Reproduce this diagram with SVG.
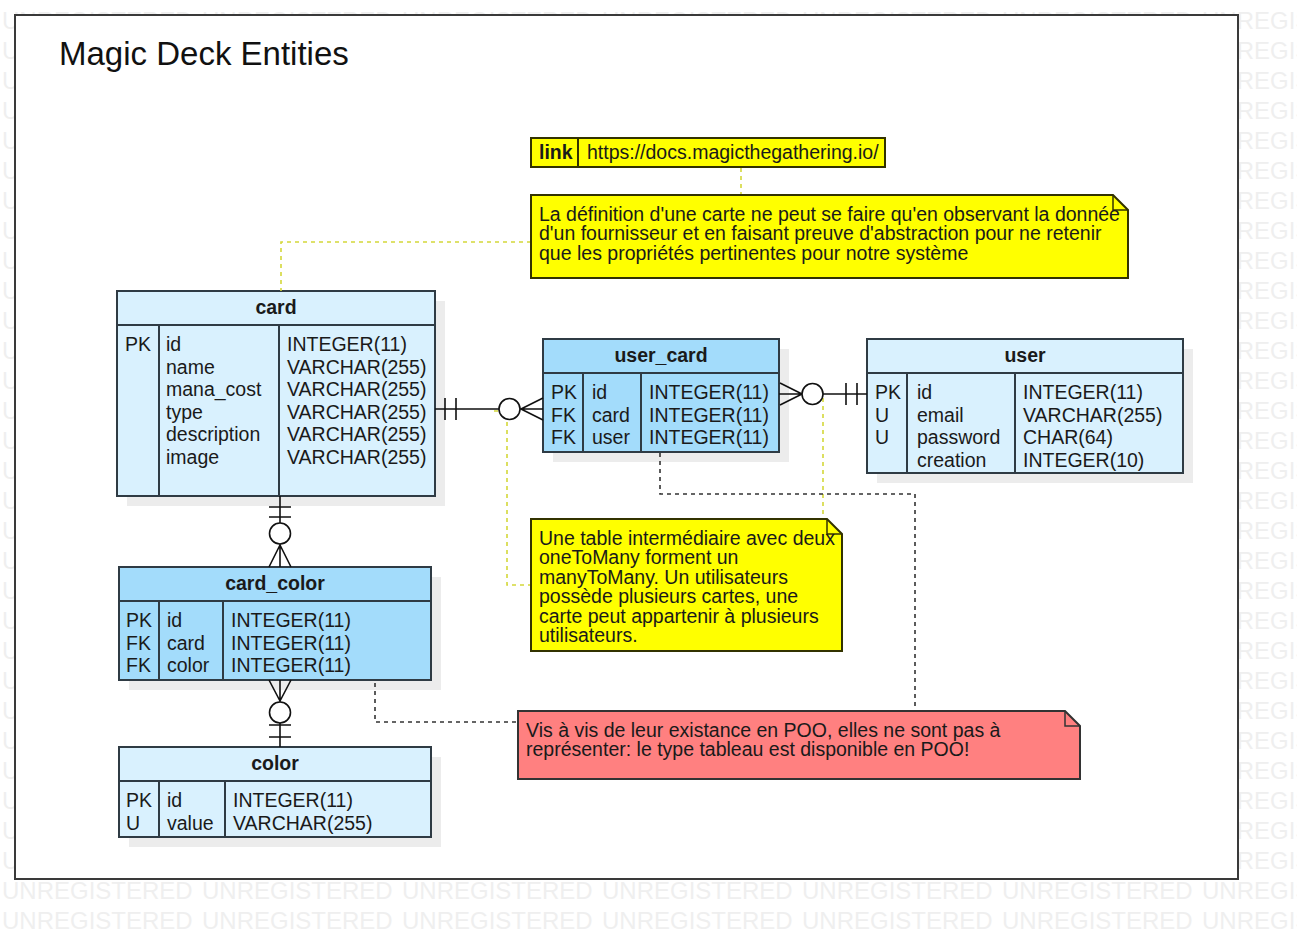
<svg xmlns="http://www.w3.org/2000/svg" xmlns:xlink="http://www.w3.org/1999/xlink" width="1297" height="939" viewBox="0 0 1297 939">
<style>
.wm{font-family:"Liberation Sans",Arial,sans-serif;font-size:24px;fill:#efefef}
.t{font-family:"Liberation Sans",Arial,sans-serif;font-size:19.5px;fill:#1a1a1a}
.th{font-family:"Liberation Sans",Arial,sans-serif;font-size:19.5px;font-weight:bold;fill:#1a1a1a;text-anchor:middle}
.n{font-family:"Liberation Sans",Arial,sans-serif;font-size:19.5px;fill:#1a1a1a}
.light{fill:#d9f1fe;stroke:#2f3b44;stroke-width:2}
.strong{fill:#a3dcfb;stroke:#2f3b44;stroke-width:2}
.shadow{fill:#ececec}
.div{stroke:#2f3b44;stroke-width:2}
.rel{fill:none;stroke:#111;stroke-width:1.6}
.circ{fill:#fff;stroke:#111;stroke-width:1.6}
.ydash{fill:none;stroke:#d4d83a;stroke-width:1.6;stroke-dasharray:4 4}
.kdash{fill:none;stroke:#333;stroke-width:1.6;stroke-dasharray:4 4}
.note{fill:#ffff00;stroke:#333300;stroke-width:2}
.rnote{fill:#ff8080;stroke:#333;stroke-width:2}
</style>
<defs>
<g id="wmrow">
<text class="wm" x="2" y="0">UNREGISTERED</text>
<text class="wm" x="202" y="0">UNREGISTERED</text>
<text class="wm" x="402" y="0">UNREGISTERED</text>
<text class="wm" x="602" y="0">UNREGISTERED</text>
<text class="wm" x="802" y="0">UNREGISTERED</text>
<text class="wm" x="1002" y="0">UNREGISTERED</text>
<text class="wm" x="1202" y="0">UNREGISTERED</text>
</g>
</defs>
<rect width="1297" height="939" fill="#fff"/>
<g id="watermark">
<use xlink:href="#wmrow" y="29"/><use xlink:href="#wmrow" y="59"/><use xlink:href="#wmrow" y="89"/><use xlink:href="#wmrow" y="119"/>
<use xlink:href="#wmrow" y="149"/><use xlink:href="#wmrow" y="179"/><use xlink:href="#wmrow" y="209"/><use xlink:href="#wmrow" y="239"/>
<use xlink:href="#wmrow" y="269"/><use xlink:href="#wmrow" y="299"/><use xlink:href="#wmrow" y="329"/><use xlink:href="#wmrow" y="359"/>
<use xlink:href="#wmrow" y="389"/><use xlink:href="#wmrow" y="419"/><use xlink:href="#wmrow" y="449"/><use xlink:href="#wmrow" y="479"/>
<use xlink:href="#wmrow" y="509"/><use xlink:href="#wmrow" y="539"/><use xlink:href="#wmrow" y="569"/><use xlink:href="#wmrow" y="599"/>
<use xlink:href="#wmrow" y="629"/><use xlink:href="#wmrow" y="659"/><use xlink:href="#wmrow" y="689"/><use xlink:href="#wmrow" y="719"/>
<use xlink:href="#wmrow" y="749"/><use xlink:href="#wmrow" y="779"/><use xlink:href="#wmrow" y="809"/><use xlink:href="#wmrow" y="839"/>
<use xlink:href="#wmrow" y="869"/><use xlink:href="#wmrow" y="899"/><use xlink:href="#wmrow" y="929"/>
</g>
<g id="frame">
<rect x="15" y="15" width="1223" height="864" fill="#fff" stroke="#3a3a3a" stroke-width="2"/>
<text x="59" y="65" font-family="Liberation Sans, Arial, sans-serif" font-size="33" fill="#111">Magic Deck Entities</text>
</g>

<g id="card">
<rect class="shadow" x="127" y="301" width="318" height="205"/>
<rect class="light" x="117" y="291" width="318" height="34"/>
<rect class="light" x="117" y="325" width="318" height="171"/>
<line class="div" x1="159" y1="325" x2="159" y2="496"/>
<line class="div" x1="279" y1="325" x2="279" y2="496"/>
<text class="th" x="276" y="314">card</text>
<text class="t" x="125" y="351">PK</text>
<text class="t" y="351"><tspan x="166">id</tspan><tspan x="166" dy="22.6">name</tspan><tspan x="166" dy="22.6">mana_cost</tspan><tspan x="166" dy="22.6">type</tspan><tspan x="166" dy="22.6">description</tspan><tspan x="166" dy="22.6">image</tspan></text>
<text class="t" y="351"><tspan x="287">INTEGER(11)</tspan><tspan x="287" dy="22.6">VARCHAR(255)</tspan><tspan x="287" dy="22.6">VARCHAR(255)</tspan><tspan x="287" dy="22.6">VARCHAR(255)</tspan><tspan x="287" dy="22.6">VARCHAR(255)</tspan><tspan x="287" dy="22.6">VARCHAR(255)</tspan></text>
</g>

<g id="user_card">
<rect class="shadow" x="553" y="349" width="236" height="113"/>
<rect class="strong" x="543" y="339" width="236" height="34"/>
<rect class="strong" x="543" y="373" width="236" height="79"/>
<line class="div" x1="583" y1="373" x2="583" y2="452"/>
<line class="div" x1="641" y1="373" x2="641" y2="452"/>
<text class="th" x="661" y="362">user_card</text>
<text class="t" y="399"><tspan x="551">PK</tspan><tspan x="551" dy="22.6">FK</tspan><tspan x="551" dy="22.6">FK</tspan></text>
<text class="t" y="399"><tspan x="592">id</tspan><tspan x="592" dy="22.6">card</tspan><tspan x="592" dy="22.6">user</tspan></text>
<text class="t" y="399"><tspan x="649">INTEGER(11)</tspan><tspan x="649" dy="22.6">INTEGER(11)</tspan><tspan x="649" dy="22.6">INTEGER(11)</tspan></text>
</g>

<g id="user">
<rect class="shadow" x="877" y="349" width="316" height="134"/>
<rect class="light" x="867" y="339" width="316" height="34"/>
<rect class="light" x="867" y="373" width="316" height="100"/>
<line class="div" x1="907" y1="373" x2="907" y2="473"/>
<line class="div" x1="1015" y1="373" x2="1015" y2="473"/>
<text class="th" x="1025" y="362">user</text>
<text class="t" y="399"><tspan x="875">PK</tspan><tspan x="875" dy="22.6">U</tspan><tspan x="875" dy="22.6">U</tspan></text>
<text class="t" y="399"><tspan x="917">id</tspan><tspan x="917" dy="22.6">email</tspan><tspan x="917" dy="22.6">password</tspan><tspan x="917" dy="22.6">creation</tspan></text>
<text class="t" y="399"><tspan x="1023">INTEGER(11)</tspan><tspan x="1023" dy="22.6">VARCHAR(255)</tspan><tspan x="1023" dy="22.6">CHAR(64)</tspan><tspan x="1023" dy="22.6">INTEGER(10)</tspan></text>
</g>

<g id="card_color">
<rect class="shadow" x="129" y="577" width="312" height="113"/>
<rect class="strong" x="119" y="567" width="312" height="34"/>
<rect class="strong" x="119" y="601" width="312" height="79"/>
<line class="div" x1="159" y1="601" x2="159" y2="680"/>
<line class="div" x1="223" y1="601" x2="223" y2="680"/>
<text class="th" x="275" y="590">card_color</text>
<text class="t" y="627"><tspan x="126">PK</tspan><tspan x="126" dy="22.6">FK</tspan><tspan x="126" dy="22.6">FK</tspan></text>
<text class="t" y="627"><tspan x="167">id</tspan><tspan x="167" dy="22.6">card</tspan><tspan x="167" dy="22.6">color</tspan></text>
<text class="t" y="627"><tspan x="231">INTEGER(11)</tspan><tspan x="231" dy="22.6">INTEGER(11)</tspan><tspan x="231" dy="22.6">INTEGER(11)</tspan></text>
</g>

<g id="color">
<rect class="shadow" x="129" y="757" width="312" height="90"/>
<rect class="light" x="119" y="747" width="312" height="34"/>
<rect class="light" x="119" y="781" width="312" height="56"/>
<line class="div" x1="159" y1="781" x2="159" y2="837"/>
<line class="div" x1="225" y1="781" x2="225" y2="837"/>
<text class="th" x="275" y="770">color</text>
<text class="t" y="807"><tspan x="126">PK</tspan><tspan x="126" dy="22.6">U</tspan></text>
<text class="t" y="807"><tspan x="167">id</tspan><tspan x="167" dy="22.6">value</tspan></text>
<text class="t" y="807"><tspan x="233">INTEGER(11)</tspan><tspan x="233" dy="22.6">VARCHAR(255)</tspan></text>
</g>

<g id="connectors">
<path class="ydash" d="M741 168 V195"/>
<path class="ydash" d="M531 242 H281 V291"/>
<path class="ydash" d="M494 411 H507 V585 H531"/>
<path class="ydash" d="M823 398 V519"/>
<path class="kdash" d="M660 453 V494 H915 V711"/>
<path class="kdash" d="M375 683 V722 H518"/>
<path class="rel" d="M435 409 H499 M445 398 V420 M456 398 V420 M520 409 H543 M521 409 L543 398 M521 409 L543 420"/>
<circle class="circ" cx="509.5" cy="409" r="10.5"/>
<path class="rel" d="M779 394 H802 M780 383 L802 394 M780 405 L802 394 M823 394 H867 M846 383 V405 M857 383 V405"/>
<circle class="circ" cx="812.5" cy="394" r="10.5"/>
<path class="rel" d="M280 496 V523 M269 507 H291 M269 517 H291 M280 544 V567 M280 545 L269 567 M280 545 L291 567"/>
<circle class="circ" cx="280" cy="533.5" r="10.5"/>
<path class="rel" d="M280 680 V702 M269 680 L280 701 M291 680 L280 701 M280 723 V747 M269 725 H291 M269 737 H291"/>
<circle class="circ" cx="280" cy="712.5" r="10.5"/>
</g>

<g id="link">
<rect class="note" x="531" y="138" width="354" height="29"/>
<line x1="578" y1="138" x2="578" y2="167" stroke="#333300" stroke-width="2"/>
<text class="t" x="539" y="159" font-weight="bold">link</text>
<text class="t" x="587" y="159">https://docs.magicthegathering.io/</text>
</g>

<g id="note_card">
<path class="note" d="M531 195 H1113 L1128 210 V278 H531 Z"/>
<path d="M1113 195 V210 H1128" fill="none" stroke="#333300" stroke-width="1.5"/>
<text class="n" y="220.5"><tspan x="539">La définition d'une carte ne peut se faire qu'en observant la donnée</tspan><tspan x="539" dy="19.5">d'un fournisseur et en faisant preuve d'abstraction pour ne retenir</tspan><tspan x="539" dy="19.5">que les propriétés pertinentes pour notre système</tspan></text>
</g>

<g id="note_user_card">
<path class="note" d="M531 519 H827 L842 534 V651 H531 Z"/>
<path d="M827 519 V534 H842" fill="none" stroke="#333300" stroke-width="1.5"/>
<text class="n" y="544.5"><tspan x="539">Une table intermédiaire avec deux</tspan><tspan x="539" dy="19.5">oneToMany forment un</tspan><tspan x="539" dy="19.5">manyToMany. Un utilisateurs</tspan><tspan x="539" dy="19.5">possède plusieurs cartes, une</tspan><tspan x="539" dy="19.5">carte peut appartenir à plusieurs</tspan><tspan x="539" dy="19.5">utilisateurs.</tspan></text>
</g>

<g id="note_poo">
<path class="rnote" d="M518 711 H1065 L1080 726 V779 H518 Z"/>
<path d="M1065 711 V726 H1080" fill="none" stroke="#333" stroke-width="1.5"/>
<text class="n" y="736.5"><tspan x="526">Vis à vis de leur existance en POO, elles ne sont pas à</tspan><tspan x="526" dy="19.5">représenter: le type tableau est disponible en POO!</tspan></text>
</g>
</svg>
